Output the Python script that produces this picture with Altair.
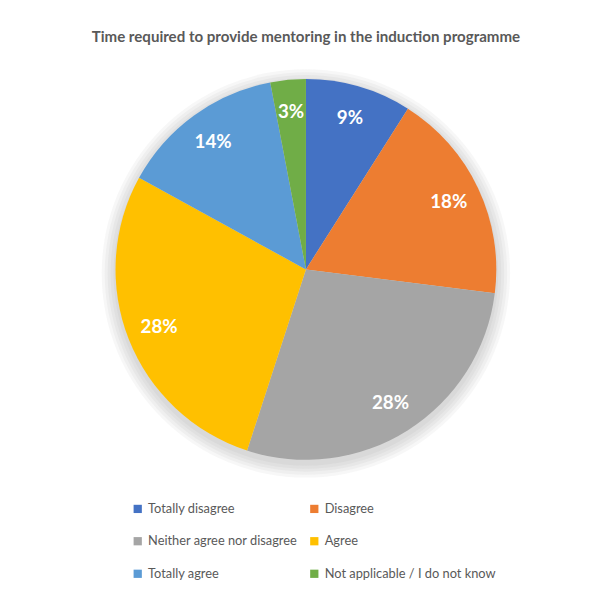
import altair as alt
import pandas as pd

categories = ["Totally disagree", "Disagree", "Neither agree nor disagree",
              "Agree", "Totally agree", "Not applicable / I do not know"]
values = [9, 18, 28, 28, 14, 3]
labels = ["9%", "18%", "28%", "28%", "14%", "3%"]
colors = ["#4472C4", "#ED7D31", "#A5A5A5", "#FFC000", "#5B9BD5", "#70AD47"]
title_text = "Time required to provide mentoring in the induction programme"

df = pd.DataFrame({"category": categories, "value": values, "label": labels,
                   "idx": list(range(len(categories)))})

CX, CY, R = 302, 261, 193
FONT = "Lato"

color_scale = alt.Scale(domain=categories, range=colors)

# soft halo behind the pie
halo_df = pd.DataFrame({"r": [R + 14, R + 11, R + 8, R + 5, R + 2], "v": [1] * 5})
halo = alt.Chart(halo_df).mark_arc(color="#7f7f7f", opacity=0.06).encode(
    theta=alt.Theta("v:Q", stack=False, scale=alt.Scale(domain=[0, 1])),
    radius=alt.Radius("r:Q", scale=None),
    x=alt.value(CX), y=alt.value(CY + 4),
)

base = alt.Chart(df).encode(
    theta=alt.Theta("value:Q", stack=True),
    order=alt.Order("idx:Q"),
)

arcs = base.mark_arc(outerRadius=R, stroke=None).encode(
    color=alt.Color("category:N", scale=color_scale, sort=categories,
                    legend=alt.Legend(title=None, orient="none", legendX=125, legendY=497,
                                      columns=2, direction="horizontal",
                                      columnPadding=10, rowPadding=19,
                                      symbolType="square", symbolSize=70,
                                      symbolStrokeWidth=0, labelFontSize=13,
                                      labelColor="#595959", labelFont=FONT,
                                      labelLimit=400, padding=0, labelOffset=4)),
    x=alt.value(CX), y=alt.value(CY),
)

text = base.mark_text(radius=160, fontSize=19, fontWeight="bold", color="white",
                      font=FONT, baseline="middle", align="center").encode(
    text="label:N",
    x=alt.value(CX), y=alt.value(CY),
)

title = alt.Chart(pd.DataFrame({"t": [title_text]})).mark_text(
    fontSize=15.3, fontWeight="bold", color="#595959", font=FONT,
    baseline="middle", align="center").encode(
    text="t:N", x=alt.value(CX), y=alt.value(25))

chart = alt.layer(halo, arcs, text, title).resolve_scale(theta="independent").properties(
    width=591, height=589, padding=0, autosize=alt.AutoSizeParams(type="none"),
    background="white",
).configure_view(stroke=None)

chart.save("out.html", embed_options={"renderer": "svg", "actions": False})
